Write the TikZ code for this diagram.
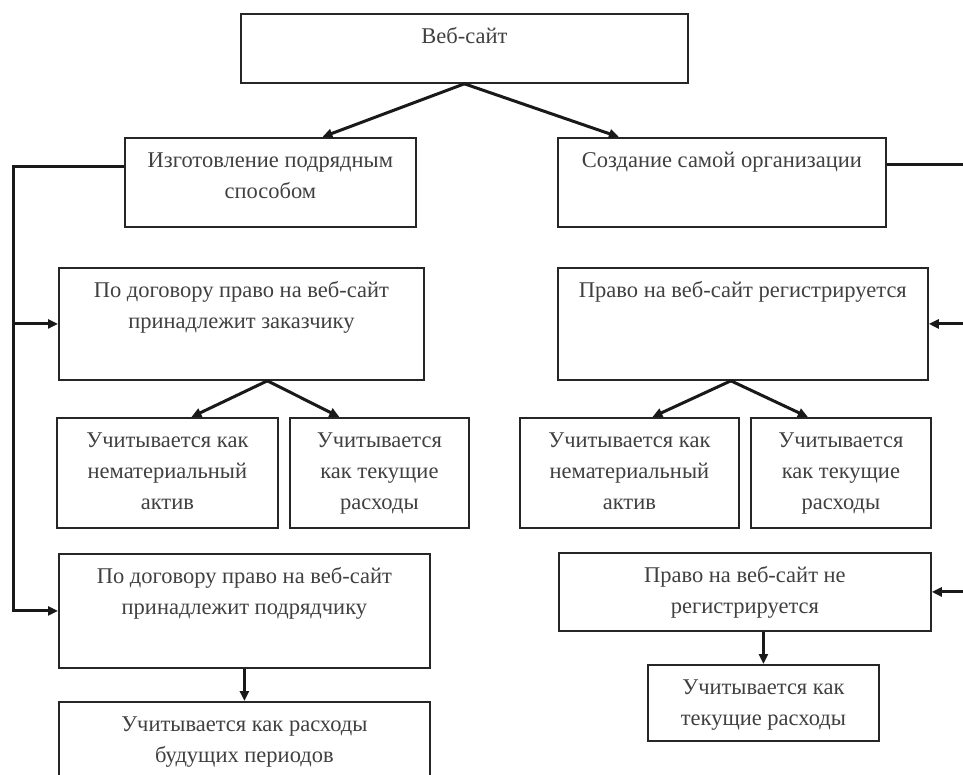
\documentclass[tikz,border=0pt]{standalone}
\usepackage{fontspec}
\setmainfont{Liberation Serif}
\usetikzlibrary{arrows.meta,calc}

\newcommand{\boxtext}[3]{\parbox[c][#2][t]{#1}{\centering\rule{0pt}{30pt}#3}}

\begin{document}
\begin{tikzpicture}[
  x=1pt, y=-1pt,
  blk/.style={draw=black!85, line width=1.8pt, inner sep=0pt, anchor=north west,
    font=\fontsize{22.5}{31}\selectfont, text=black!75},
  conn/.style={line width=3pt, draw=black!90},
  arr/.style={conn, -{Triangle[length=10pt,width=9pt]}},
]
\useasboundingbox (0,0) rectangle (963,774);

% ===== Top level =====
\node[blk] (web) at (240,13) {\boxtext{447pt}{69pt}{Веб-сайт}};
\node[blk] (podr) at (124,137) {\boxtext{291pt}{89pt}{Изготовление подрядным\\способом}};
\node[blk] (sama) at (557,137) {\boxtext{328pt}{89pt}{Создание самой организации}};

\draw[arr] (web.south) -- ($(podr.north)+(52,0)$);
\draw[arr] (web.south) -- ($(sama.north)+(-103,0)$);

% ===== Left branch =====
\node[blk] (zakaz) at (58,267) {\boxtext{365pt}{112pt}{По договору право на веб-сайт\\принадлежит заказчику}};
\node[blk] (nma1) at (56,417) {\boxtext{221pt}{110pt}{Учитывается как\\нематериальный\\актив}};
\node[blk] (tek1) at (289,417) {\boxtext{179pt}{110pt}{Учитывается\\как текущие\\расходы}};
\node[blk] (podrch) at (58,553) {\boxtext{371pt}{114pt}{По договору право на веб-сайт\\принадлежит подрядчику}};
\node[blk] (bud) at (58,701) {\boxtext{371pt}{100pt}{Учитывается как расходы\\будущих периодов}};

\coordinate (lbus) at (13,0);
\draw[arr] ($(podr.west)+(0,-16)$) -| (podrch.west -| lbus) -- (podrch.west);
\draw[arr] (zakaz.west -| lbus) -- (zakaz.west);

\coordinate (zk) at ($(zakaz.south)+(26,0)$);
\draw[arr] (zk) -- ($(nma1.north)+(24,0)$);
\draw[arr] (zk) -- ($(tek1.north)+(-40,0)$);
\draw[arr] (podrch.south) -- (bud.north);

% ===== Right branch =====
\node[blk] (reg) at (557,267) {\boxtext{370pt}{112pt}{Право на веб-сайт регистрируется}};
\node[blk] (nma2) at (519,417) {\boxtext{219pt}{110pt}{Учитывается как\\нематериальный\\актив}};
\node[blk] (tek2) at (750,417) {\boxtext{180pt}{110pt}{Учитывается\\как текущие\\расходы}};
\node[blk] (nereg) at (558,552) {\boxtext{372pt}{78pt}{Право на веб-сайт не\\регистрируется}};
\node[blk] (tek3) at (647,664) {\boxtext{231pt}{76pt}{Учитывается как\\текущие расходы}};

\coordinate (rbus) at (975,0);
\draw[conn] ($(sama.east)+(0,-18)$) -| (nereg.east -| rbus);
\draw[arr] (reg.east -| rbus) -- (reg.east);
\draw[arr] (nereg.east -| rbus) -- (nereg.east);

\coordinate (rg) at ($(reg.south)+(-12,0)$);
\draw[arr] (rg) -- ($(nma2.north)+(23,0)$);
\draw[arr] (rg) -- ($(tek2.north)+(-33,0)$);
\draw[arr] (nereg.south -| tek3.north) -- (tek3.north);

\end{tikzpicture}
\end{document}
